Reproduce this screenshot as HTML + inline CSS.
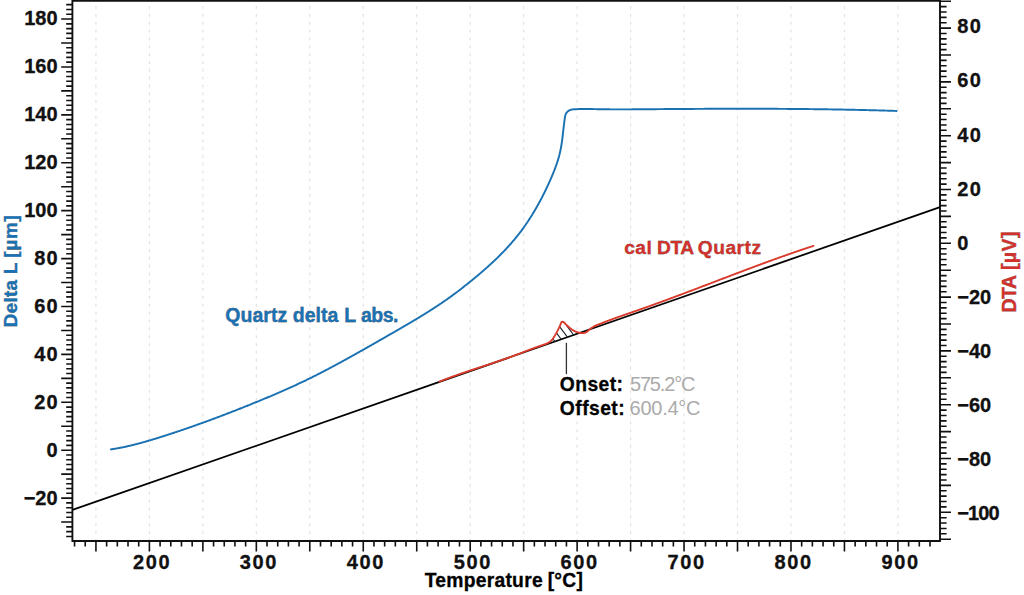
<!DOCTYPE html>
<html><head><meta charset="utf-8"><style>
html,body{margin:0;padding:0;background:#fff;width:1024px;height:595px;overflow:hidden;position:relative}
text{font-family:"Liberation Sans", sans-serif}
text[font-weight="bold"]{stroke:currentColor;stroke-width:0.3px;paint-order:stroke}
</style></head><body>
<svg width="1024" height="595" viewBox="0 0 1024 595" style="position:absolute;left:0;top:0">
<rect width="1024" height="595" fill="#fff"/>
<path d="M95.94 2.75V540.00M149.40 2.75V540.00M202.87 2.75V540.00M256.33 2.75V540.00M309.79 2.75V540.00M363.26 2.75V540.00M416.73 2.75V540.00M470.19 2.75V540.00M523.65 2.75V540.00M577.12 2.75V540.00M630.58 2.75V540.00M684.05 2.75V540.00M737.51 2.75V540.00M790.98 2.75V540.00M844.44 2.75V540.00M897.91 2.75V540.00" stroke="#e3e3e3" stroke-width="1.2" stroke-dasharray="3 4.834" stroke-dashoffset="-3.35" fill="none"/>
<path d="M66.20 536.43H72.40M66.20 531.64H72.40M66.20 526.85H72.40M61.20 522.06H72.40M66.20 517.27H72.40M66.20 512.48H72.40M66.20 507.69H72.40M66.20 502.90H72.40M61.20 498.11H72.40M66.20 493.32H72.40M66.20 488.52H72.40M66.20 483.73H72.40M66.20 478.94H72.40M61.20 474.15H72.40M66.20 469.36H72.40M66.20 464.57H72.40M66.20 459.78H72.40M66.20 454.99H72.40M61.20 450.20H72.40M66.20 445.41H72.40M66.20 440.62H72.40M66.20 435.83H72.40M66.20 431.04H72.40M61.20 426.25H72.40M66.20 421.46H72.40M66.20 416.67H72.40M66.20 411.88H72.40M66.20 407.08H72.40M61.20 402.29H72.40M66.20 397.50H72.40M66.20 392.71H72.40M66.20 387.92H72.40M66.20 383.13H72.40M61.20 378.34H72.40M66.20 373.55H72.40M66.20 368.76H72.40M66.20 363.97H72.40M66.20 359.18H72.40M61.20 354.39H72.40M66.20 349.60H72.40M66.20 344.81H72.40M66.20 340.02H72.40M66.20 335.23H72.40M61.20 330.43H72.40M66.20 325.64H72.40M66.20 320.85H72.40M66.20 316.06H72.40M66.20 311.27H72.40M61.20 306.48H72.40M66.20 301.69H72.40M66.20 296.90H72.40M66.20 292.11H72.40M66.20 287.32H72.40M61.20 282.53H72.40M66.20 277.74H72.40M66.20 272.95H72.40M66.20 268.16H72.40M66.20 263.37H72.40M61.20 258.58H72.40M66.20 253.79H72.40M66.20 248.99H72.40M66.20 244.20H72.40M66.20 239.41H72.40M61.20 234.62H72.40M66.20 229.83H72.40M66.20 225.04H72.40M66.20 220.25H72.40M66.20 215.46H72.40M61.20 210.67H72.40M66.20 205.88H72.40M66.20 201.09H72.40M66.20 196.30H72.40M66.20 191.51H72.40M61.20 186.72H72.40M66.20 181.93H72.40M66.20 177.14H72.40M66.20 172.35H72.40M66.20 167.55H72.40M61.20 162.76H72.40M66.20 157.97H72.40M66.20 153.18H72.40M66.20 148.39H72.40M66.20 143.60H72.40M61.20 138.81H72.40M66.20 134.02H72.40M66.20 129.23H72.40M66.20 124.44H72.40M66.20 119.65H72.40M61.20 114.86H72.40M66.20 110.07H72.40M66.20 105.28H72.40M66.20 100.49H72.40M66.20 95.70H72.40M61.20 90.90H72.40M66.20 86.11H72.40M66.20 81.32H72.40M66.20 76.53H72.40M66.20 71.74H72.40M61.20 66.95H72.40M66.20 62.16H72.40M66.20 57.37H72.40M66.20 52.58H72.40M66.20 47.79H72.40M61.20 43.00H72.40M66.20 38.21H72.40M66.20 33.42H72.40M66.20 28.63H72.40M66.20 23.84H72.40M61.20 19.05H72.40M66.20 14.26H72.40M66.20 9.46H72.40M66.20 4.67H72.40M74.55 541.00V546.50M85.24 541.00V546.50M95.94 541.00V551.50M106.63 541.00V546.50M117.32 541.00V546.50M128.01 541.00V546.50M138.71 541.00V546.50M149.40 541.00V551.50M160.09 541.00V546.50M170.79 541.00V546.50M181.48 541.00V546.50M192.17 541.00V546.50M202.87 541.00V551.50M213.56 541.00V546.50M224.25 541.00V546.50M234.94 541.00V546.50M245.64 541.00V546.50M256.33 541.00V551.50M267.02 541.00V546.50M277.72 541.00V546.50M288.41 541.00V546.50M299.10 541.00V546.50M309.79 541.00V551.50M320.49 541.00V546.50M331.18 541.00V546.50M341.87 541.00V546.50M352.57 541.00V546.50M363.26 541.00V551.50M373.95 541.00V546.50M384.65 541.00V546.50M395.34 541.00V546.50M406.03 541.00V546.50M416.73 541.00V551.50M427.42 541.00V546.50M438.11 541.00V546.50M448.80 541.00V546.50M459.50 541.00V546.50M470.19 541.00V551.50M480.88 541.00V546.50M491.58 541.00V546.50M502.27 541.00V546.50M512.96 541.00V546.50M523.65 541.00V551.50M534.35 541.00V546.50M545.04 541.00V546.50M555.73 541.00V546.50M566.43 541.00V546.50M577.12 541.00V551.50M587.81 541.00V546.50M598.51 541.00V546.50M609.20 541.00V546.50M619.89 541.00V546.50M630.58 541.00V551.50M641.28 541.00V546.50M651.97 541.00V546.50M662.66 541.00V546.50M673.36 541.00V546.50M684.05 541.00V551.50M694.74 541.00V546.50M705.44 541.00V546.50M716.13 541.00V546.50M726.82 541.00V546.50M737.51 541.00V551.50M748.21 541.00V546.50M758.90 541.00V546.50M769.59 541.00V546.50M780.29 541.00V546.50M790.98 541.00V551.50M801.67 541.00V546.50M812.37 541.00V546.50M823.06 541.00V546.50M833.75 541.00V546.50M844.44 541.00V551.50M855.14 541.00V546.50M865.83 541.00V546.50M876.52 541.00V546.50M887.22 541.00V546.50M897.91 541.00V551.50M908.60 541.00V546.50M919.30 541.00V546.50M929.99 541.00V546.50M940.00 539.20H951.00M940.00 533.82H946.60M940.00 528.44H946.60M940.00 523.06H946.60M940.00 517.68H946.60M940.00 512.30H951.00M940.00 506.92H946.60M940.00 501.54H946.60M940.00 496.16H946.60M940.00 490.78H946.60M940.00 485.40H951.00M940.00 480.02H946.60M940.00 474.64H946.60M940.00 469.26H946.60M940.00 463.88H946.60M940.00 458.50H951.00M940.00 453.12H946.60M940.00 447.74H946.60M940.00 442.36H946.60M940.00 436.98H946.60M940.00 431.60H951.00M940.00 426.22H946.60M940.00 420.84H946.60M940.00 415.46H946.60M940.00 410.08H946.60M940.00 404.70H951.00M940.00 399.32H946.60M940.00 393.94H946.60M940.00 388.56H946.60M940.00 383.18H946.60M940.00 377.80H951.00M940.00 372.42H946.60M940.00 367.04H946.60M940.00 361.66H946.60M940.00 356.28H946.60M940.00 350.90H951.00M940.00 345.52H946.60M940.00 340.14H946.60M940.00 334.76H946.60M940.00 329.38H946.60M940.00 324.00H951.00M940.00 318.62H946.60M940.00 313.24H946.60M940.00 307.86H946.60M940.00 302.48H946.60M940.00 297.10H951.00M940.00 291.72H946.60M940.00 286.34H946.60M940.00 280.96H946.60M940.00 275.58H946.60M940.00 270.20H951.00M940.00 264.82H946.60M940.00 259.44H946.60M940.00 254.06H946.60M940.00 248.68H946.60M940.00 243.30H951.00M940.00 237.92H946.60M940.00 232.54H946.60M940.00 227.16H946.60M940.00 221.78H946.60M940.00 216.40H951.00M940.00 211.02H946.60M940.00 205.64H946.60M940.00 200.26H946.60M940.00 194.88H946.60M940.00 189.50H951.00M940.00 184.12H946.60M940.00 178.74H946.60M940.00 173.36H946.60M940.00 167.98H946.60M940.00 162.60H951.00M940.00 157.22H946.60M940.00 151.84H946.60M940.00 146.46H946.60M940.00 141.08H946.60M940.00 135.70H951.00M940.00 130.32H946.60M940.00 124.94H946.60M940.00 119.56H946.60M940.00 114.18H946.60M940.00 108.80H951.00M940.00 103.42H946.60M940.00 98.04H946.60M940.00 92.66H946.60M940.00 87.28H946.60M940.00 81.90H951.00M940.00 76.52H946.60M940.00 71.14H946.60M940.00 65.76H946.60M940.00 60.38H946.60M940.00 55.00H951.00M940.00 49.62H946.60M940.00 44.24H946.60M940.00 38.86H946.60M940.00 33.48H946.60M940.00 28.10H951.00M940.00 22.72H946.60M940.00 17.34H946.60M940.00 11.96H946.60M940.00 6.58H946.60M940.00 1.20H951.00" stroke="#111" stroke-width="1.6" fill="none"/>
<path d="M72.4 0V541.8M940.0 0V541.8M71.60000000000001 541.0H940.8M71.60000000000001 0.75H940.8" stroke="#111" stroke-width="1.9" fill="none"/>
<path d="M72.4 509.93L940.0 207.14" stroke="#000" stroke-width="1.75" fill="none"/>
<path d="M110.93 449.35 L111.54 449.26 L112.15 449.17 L112.77 449.08 L113.38 448.99 L113.99 448.89 L114.61 448.79 L115.22 448.69 L115.83 448.59 L116.44 448.48 L117.05 448.38 L117.66 448.27 L118.27 448.16 L118.88 448.05 L119.49 447.93 L120.10 447.82 L120.71 447.70 L121.32 447.58 L121.93 447.46 L122.53 447.34 L123.14 447.21 L123.75 447.09 L124.35 446.96 L124.96 446.83 L125.57 446.70 L126.17 446.57 L126.78 446.44 L127.38 446.30 L127.99 446.17 L128.59 446.03 L129.20 445.89 L129.80 445.75 L130.41 445.61 L131.01 445.46 L131.61 445.32 L132.21 445.17 L132.82 445.02 L133.42 444.87 L134.02 444.72 L134.62 444.57 L135.22 444.42 L135.83 444.27 L136.43 444.11 L137.03 443.95 L137.63 443.80 L138.23 443.64 L138.83 443.48 L139.43 443.32 L140.03 443.15 L140.63 442.99 L141.22 442.83 L141.82 442.66 L142.42 442.50 L143.02 442.33 L143.62 442.16 L144.22 441.99 L144.81 441.82 L145.41 441.65 L146.01 441.48 L146.60 441.31 L147.20 441.13 L147.80 440.96 L148.39 440.78 L148.99 440.61 L149.59 440.43 L150.18 440.26 L150.78 440.08 L151.37 439.90 L151.97 439.72 L152.56 439.54 L153.16 439.36 L153.75 439.18 L154.35 439.00 L154.94 438.81 L155.53 438.63 L156.13 438.45 L156.72 438.26 L157.32 438.08 L157.91 437.89 L158.50 437.71 L159.10 437.52 L159.69 437.34 L160.28 437.15 L160.87 436.96 L161.47 436.78 L162.06 436.59 L162.65 436.40 L163.24 436.21 L163.84 436.02 L164.43 435.84 L165.02 435.65 L165.61 435.46 L166.20 435.27 L166.79 435.08 L167.39 434.89 L167.98 434.69 L168.57 434.50 L169.16 434.31 L169.75 434.12 L170.34 433.93 L170.93 433.73 L171.52 433.54 L172.11 433.35 L172.70 433.15 L173.29 432.96 L173.88 432.76 L174.47 432.57 L175.06 432.37 L175.65 432.18 L176.24 431.98 L176.83 431.78 L177.42 431.59 L178.01 431.39 L178.59 431.19 L179.18 431.00 L179.77 430.80 L180.36 430.60 L180.95 430.40 L181.54 430.20 L182.12 430.00 L182.71 429.80 L183.30 429.60 L183.89 429.40 L184.47 429.20 L185.06 429.00 L185.65 428.80 L186.24 428.60 L186.82 428.39 L187.41 428.19 L188.00 427.99 L188.58 427.78 L189.17 427.58 L189.76 427.38 L190.34 427.17 L190.93 426.97 L191.52 426.76 L192.10 426.56 L192.69 426.35 L193.27 426.15 L193.86 425.94 L194.44 425.74 L195.03 425.53 L195.61 425.32 L196.20 425.12 L196.78 424.91 L197.37 424.70 L197.95 424.49 L198.54 424.28 L199.12 424.07 L199.71 423.86 L200.29 423.66 L200.88 423.45 L201.46 423.24 L202.04 423.03 L202.63 422.81 L203.21 422.60 L203.80 422.39 L204.38 422.18 L204.96 421.97 L205.55 421.76 L206.13 421.54 L206.71 421.33 L207.29 421.12 L207.88 420.90 L208.46 420.69 L209.04 420.48 L209.63 420.26 L210.21 420.05 L210.79 419.83 L211.37 419.62 L211.95 419.40 L212.54 419.19 L213.12 418.97 L213.70 418.75 L214.28 418.54 L214.86 418.32 L215.44 418.10 L216.03 417.89 L216.61 417.67 L217.19 417.45 L217.77 417.23 L218.35 417.01 L218.93 416.80 L219.51 416.58 L220.09 416.36 L220.67 416.14 L221.25 415.92 L221.83 415.70 L222.41 415.48 L222.99 415.26 L223.57 415.03 L224.15 414.81 L224.73 414.59 L225.31 414.37 L225.89 414.15 L226.47 413.93 L227.05 413.70 L227.63 413.48 L228.21 413.26 L228.79 413.03 L229.37 412.81 L229.95 412.58 L230.53 412.36 L231.10 412.14 L231.68 411.91 L232.26 411.69 L232.84 411.46 L233.42 411.24 L234.00 411.01 L234.57 410.78 L235.15 410.56 L235.73 410.33 L236.31 410.10 L236.89 409.88 L237.46 409.65 L238.04 409.42 L238.62 409.19 L239.20 408.97 L239.77 408.74 L240.35 408.51 L240.93 408.28 L241.50 408.05 L242.08 407.82 L242.66 407.59 L243.24 407.36 L243.81 407.13 L244.39 406.90 L244.96 406.67 L245.54 406.44 L246.12 406.21 L246.69 405.98 L247.27 405.75 L247.85 405.52 L248.42 405.28 L249.00 405.05 L249.57 404.82 L250.15 404.59 L250.73 404.35 L251.30 404.12 L251.88 403.89 L252.45 403.65 L253.03 403.42 L253.60 403.19 L254.18 402.95 L254.75 402.72 L255.33 402.48 L255.90 402.25 L256.48 402.01 L257.05 401.78 L257.63 401.54 L258.20 401.31 L258.78 401.07 L259.35 400.83 L259.92 400.60 L260.50 400.36 L261.07 400.12 L261.65 399.89 L262.22 399.65 L262.79 399.41 L263.37 399.17 L263.94 398.93 L264.51 398.69 L265.09 398.46 L265.66 398.22 L266.23 397.98 L266.81 397.74 L267.38 397.50 L267.95 397.26 L268.53 397.02 L269.10 396.78 L269.67 396.53 L270.24 396.29 L270.82 396.05 L271.39 395.81 L271.96 395.57 L272.53 395.32 L273.10 395.08 L273.67 394.84 L274.24 394.59 L274.82 394.35 L275.39 394.10 L275.96 393.86 L276.53 393.61 L277.10 393.37 L277.67 393.12 L278.24 392.88 L278.81 392.63 L279.38 392.38 L279.95 392.13 L280.52 391.89 L281.09 391.64 L281.66 391.39 L282.23 391.14 L282.79 390.89 L283.36 390.64 L283.93 390.39 L284.50 390.14 L285.07 389.89 L285.64 389.64 L286.20 389.38 L286.77 389.13 L287.34 388.88 L287.90 388.63 L288.47 388.37 L289.04 388.12 L289.60 387.86 L290.17 387.61 L290.74 387.35 L291.30 387.10 L291.87 386.84 L292.43 386.58 L293.00 386.33 L293.56 386.07 L294.13 385.81 L294.69 385.55 L295.26 385.29 L295.82 385.03 L296.38 384.77 L296.95 384.51 L297.51 384.25 L298.07 383.99 L298.64 383.72 L299.20 383.46 L299.76 383.20 L300.32 382.93 L300.88 382.67 L301.45 382.40 L302.01 382.14 L302.57 381.87 L303.13 381.61 L303.69 381.34 L304.25 381.07 L304.81 380.80 L305.37 380.53 L305.93 380.26 L306.49 379.99 L307.05 379.72 L307.60 379.45 L308.16 379.18 L308.72 378.91 L309.28 378.64 L309.84 378.36 L310.39 378.09 L310.95 377.81 L311.51 377.54 L312.06 377.26 L312.62 376.99 L313.17 376.71 L313.73 376.43 L314.28 376.15 L314.84 375.87 L315.39 375.59 L315.95 375.32 L316.50 375.03 L317.05 374.75 L317.61 374.47 L318.16 374.19 L318.71 373.91 L319.27 373.63 L319.82 373.34 L320.37 373.06 L320.92 372.77 L321.48 372.49 L322.03 372.20 L322.58 371.92 L323.13 371.63 L323.68 371.35 L324.23 371.06 L324.78 370.77 L325.33 370.48 L325.88 370.20 L326.43 369.91 L326.98 369.62 L327.53 369.33 L328.08 369.04 L328.63 368.75 L329.18 368.46 L329.73 368.17 L330.27 367.88 L330.82 367.59 L331.37 367.29 L331.92 367.00 L332.47 366.71 L333.01 366.42 L333.56 366.12 L334.11 365.83 L334.65 365.53 L335.20 365.24 L335.75 364.95 L336.29 364.65 L336.84 364.36 L337.39 364.06 L337.93 363.76 L338.48 363.47 L339.02 363.17 L339.57 362.88 L340.11 362.58 L340.66 362.28 L341.20 361.98 L341.75 361.69 L342.29 361.39 L342.84 361.09 L343.38 360.79 L343.92 360.49 L344.47 360.20 L345.01 359.90 L345.56 359.60 L346.10 359.30 L346.64 359.00 L347.19 358.70 L347.73 358.40 L348.27 358.10 L348.82 357.80 L349.36 357.50 L349.90 357.20 L350.44 356.89 L350.99 356.59 L351.53 356.29 L352.07 355.99 L352.61 355.69 L353.16 355.39 L353.70 355.08 L354.24 354.78 L354.78 354.48 L355.32 354.18 L355.86 353.87 L356.41 353.57 L356.95 353.27 L357.49 352.96 L358.03 352.66 L358.57 352.36 L359.11 352.05 L359.65 351.75 L360.19 351.44 L360.73 351.14 L361.28 350.83 L361.82 350.53 L362.36 350.22 L362.90 349.92 L363.44 349.61 L363.98 349.31 L364.52 349.00 L365.06 348.70 L365.60 348.39 L366.14 348.08 L366.68 347.78 L367.22 347.47 L367.76 347.17 L368.30 346.86 L368.84 346.55 L369.38 346.25 L369.92 345.94 L370.46 345.63 L371.00 345.33 L371.53 345.02 L372.07 344.71 L372.61 344.40 L373.15 344.10 L373.69 343.79 L374.23 343.48 L374.77 343.17 L375.31 342.86 L375.85 342.56 L376.39 342.25 L376.93 341.94 L377.47 341.63 L378.00 341.32 L378.54 341.02 L379.08 340.71 L379.62 340.40 L380.16 340.09 L380.70 339.78 L381.24 339.47 L381.78 339.16 L382.32 338.85 L382.85 338.55 L383.39 338.24 L383.93 337.93 L384.47 337.62 L385.01 337.31 L385.55 337.00 L386.09 336.69 L386.63 336.38 L387.16 336.07 L387.70 335.76 L388.24 335.45 L388.78 335.14 L389.32 334.83 L389.86 334.52 L390.40 334.21 L390.94 333.90 L391.47 333.59 L392.01 333.29 L392.55 332.98 L393.09 332.67 L393.63 332.36 L394.17 332.05 L394.71 331.74 L395.25 331.43 L395.78 331.12 L396.32 330.80 L396.86 330.49 L397.40 330.18 L397.94 329.87 L398.48 329.56 L399.02 329.25 L399.55 328.94 L400.09 328.63 L400.63 328.32 L401.17 328.01 L401.71 327.69 L402.24 327.38 L402.78 327.07 L403.32 326.76 L403.86 326.44 L404.39 326.13 L404.93 325.82 L405.47 325.50 L406.00 325.19 L406.54 324.88 L407.08 324.56 L407.61 324.25 L408.15 323.93 L408.68 323.62 L409.22 323.30 L409.76 322.99 L410.29 322.67 L410.83 322.36 L411.36 322.04 L411.90 321.72 L412.43 321.40 L412.96 321.09 L413.50 320.77 L414.03 320.45 L414.57 320.13 L415.10 319.81 L415.63 319.49 L416.16 319.17 L416.70 318.85 L417.23 318.53 L417.76 318.21 L418.29 317.89 L418.82 317.57 L419.36 317.25 L419.89 316.92 L420.42 316.60 L420.95 316.28 L421.48 315.95 L422.01 315.63 L422.54 315.30 L423.06 314.98 L423.59 314.65 L424.12 314.33 L424.65 314.00 L425.18 313.67 L425.70 313.34 L426.23 313.02 L426.76 312.69 L427.28 312.36 L427.81 312.03 L428.33 311.70 L428.86 311.36 L429.38 311.03 L429.91 310.70 L430.43 310.37 L430.95 310.03 L431.48 309.70 L432.00 309.36 L432.52 309.03 L433.04 308.69 L433.56 308.36 L434.08 308.02 L434.60 307.68 L435.12 307.34 L435.64 307.00 L436.16 306.66 L436.68 306.32 L437.20 305.98 L437.71 305.64 L438.23 305.29 L438.75 304.95 L439.26 304.61 L439.78 304.26 L440.29 303.91 L440.81 303.57 L441.32 303.22 L441.83 302.87 L442.34 302.52 L442.86 302.17 L443.37 301.82 L443.88 301.47 L444.39 301.12 L444.90 300.77 L445.41 300.41 L445.92 300.06 L446.42 299.70 L446.93 299.35 L447.44 298.99 L447.94 298.63 L448.45 298.27 L448.95 297.92 L449.46 297.55 L449.96 297.19 L450.47 296.83 L450.97 296.47 L451.47 296.10 L451.97 295.74 L452.47 295.37 L452.97 295.01 L453.47 294.64 L453.97 294.27 L454.47 293.90 L454.96 293.53 L455.46 293.16 L455.96 292.79 L456.45 292.42 L456.95 292.05 L457.44 291.67 L457.94 291.30 L458.43 290.92 L458.93 290.55 L459.42 290.17 L459.91 289.79 L460.40 289.41 L460.89 289.04 L461.38 288.66 L461.87 288.28 L462.36 287.90 L462.85 287.51 L463.34 287.13 L463.83 286.75 L464.32 286.36 L464.81 285.98 L465.29 285.60 L465.78 285.21 L466.27 284.82 L466.75 284.44 L467.24 284.05 L467.72 283.66 L468.21 283.27 L468.69 282.88 L469.18 282.49 L469.66 282.10 L470.14 281.71 L470.63 281.32 L471.11 280.93 L471.59 280.54 L472.07 280.14 L472.55 279.75 L473.03 279.35 L473.51 278.96 L473.99 278.56 L474.47 278.17 L474.95 277.77 L475.43 277.37 L475.91 276.98 L476.39 276.58 L476.87 276.18 L477.34 275.78 L477.82 275.38 L478.30 274.98 L478.77 274.58 L479.25 274.17 L479.72 273.77 L480.19 273.37 L480.67 272.96 L481.14 272.56 L481.61 272.15 L482.08 271.75 L482.55 271.34 L483.02 270.93 L483.49 270.52 L483.96 270.11 L484.43 269.70 L484.90 269.29 L485.37 268.88 L485.83 268.47 L486.30 268.06 L486.76 267.64 L487.23 267.23 L487.69 266.81 L488.15 266.40 L488.61 265.98 L489.08 265.56 L489.54 265.14 L490.00 264.73 L490.45 264.31 L490.91 263.89 L491.37 263.46 L491.83 263.04 L492.28 262.62 L492.74 262.19 L493.19 261.77 L493.64 261.34 L494.10 260.92 L494.55 260.49 L495.00 260.06 L495.45 259.63 L495.89 259.20 L496.34 258.77 L496.79 258.34 L497.23 257.91 L497.68 257.47 L498.12 257.04 L498.57 256.60 L499.01 256.17 L499.45 255.73 L499.89 255.29 L500.33 254.85 L500.76 254.41 L501.20 253.97 L501.64 253.53 L502.07 253.09 L502.50 252.64 L502.94 252.20 L503.37 251.75 L503.80 251.31 L504.23 250.86 L504.65 250.41 L505.08 249.96 L505.51 249.51 L505.93 249.06 L506.35 248.60 L506.77 248.15 L507.20 247.69 L507.61 247.24 L508.03 246.78 L508.45 246.32 L508.87 245.86 L509.28 245.40 L509.69 244.94 L510.11 244.48 L510.52 244.02 L510.92 243.55 L511.33 243.08 L511.74 242.62 L512.14 242.15 L512.55 241.68 L512.95 241.21 L513.35 240.74 L513.75 240.27 L514.15 239.79 L514.55 239.32 L514.94 238.84 L515.34 238.36 L515.73 237.89 L516.12 237.41 L516.51 236.93 L516.90 236.44 L517.29 235.96 L517.67 235.48 L518.06 234.99 L518.44 234.50 L518.82 234.02 L519.20 233.53 L519.58 233.04 L519.95 232.54 L520.33 232.05 L520.70 231.56 L521.07 231.06 L521.45 230.57 L521.81 230.07 L522.18 229.57 L522.55 229.07 L522.91 228.57 L523.28 228.07 L523.64 227.57 L524.00 227.06 L524.36 226.56 L524.71 226.05 L525.07 225.54 L525.43 225.04 L525.78 224.53 L526.13 224.02 L526.48 223.50 L526.83 222.99 L527.18 222.48 L527.52 221.96 L527.87 221.45 L528.21 220.93 L528.55 220.41 L528.89 219.89 L529.23 219.38 L529.57 218.85 L529.91 218.33 L530.24 217.81 L530.58 217.29 L530.91 216.76 L531.24 216.24 L531.57 215.71 L531.90 215.18 L532.23 214.66 L532.55 214.13 L532.88 213.60 L533.20 213.07 L533.52 212.54 L533.84 212.00 L534.16 211.47 L534.48 210.94 L534.79 210.40 L535.11 209.87 L535.42 209.33 L535.74 208.79 L536.05 208.25 L536.36 207.71 L536.67 207.17 L536.97 206.63 L537.28 206.09 L537.58 205.55 L537.89 205.01 L538.19 204.46 L538.49 203.92 L538.79 203.37 L539.09 202.83 L539.39 202.28 L539.68 201.74 L539.98 201.19 L540.27 200.64 L540.57 200.09 L540.86 199.54 L541.15 198.99 L541.44 198.44 L541.72 197.88 L542.01 197.33 L542.30 196.78 L542.58 196.22 L542.86 195.67 L543.14 195.12 L543.43 194.56 L543.70 194.00 L543.98 193.45 L544.26 192.89 L544.54 192.33 L544.81 191.77 L545.08 191.21 L545.36 190.65 L545.63 190.09 L545.90 189.53 L546.17 188.97 L546.44 188.41 L546.70 187.85 L546.97 187.28 L547.23 186.72 L547.50 186.15 L547.76 185.59 L548.02 185.03 L548.28 184.46 L548.54 183.89 L548.80 183.33 L549.06 182.76 L549.31 182.19 L549.57 181.63 L549.82 181.06 L550.07 180.49 L550.32 179.92 L550.57 179.35 L550.82 178.78 L551.07 178.21 L551.32 177.64 L551.56 177.07 L551.81 176.50 L552.05 175.93 L552.29 175.36 L552.53 174.78 L552.77 174.21 L553.01 173.64 L553.24 173.06 L553.48 172.49 L553.71 171.91 L553.94 171.33 L554.17 170.76 L554.39 170.18 L554.62 169.60 L554.84 169.02 L555.06 168.45 L555.27 167.87 L555.49 167.28 L555.70 166.70 L555.91 166.12 L556.12 165.54 L556.33 164.96 L556.53 164.37 L556.73 163.79 L556.93 163.20 L557.12 162.62 L557.32 162.03 L557.51 161.44 L557.69 160.85 L557.88 160.26 L558.06 159.67 L558.23 159.08 L558.41 158.49 L558.58 157.90 L558.75 157.30 L558.91 156.71 L559.08 156.11 L559.23 155.52 L559.39 154.92 L559.54 154.32 L559.69 153.72 L559.83 153.12 L559.97 152.52 L560.11 151.92 L560.24 151.32 L560.37 150.71 L560.50 150.11 L560.62 149.50 L560.74 148.90 L560.86 148.29 L560.97 147.68 L561.08 147.07 L561.19 146.46 L561.29 145.85 L561.39 145.24 L561.49 144.63 L561.59 144.02 L561.68 143.40 L561.78 142.79 L561.87 142.17 L561.95 141.56 L562.04 140.94 L562.12 140.33 L562.21 139.71 L562.29 139.09 L562.37 138.48 L562.45 137.86 L562.52 137.24 L562.60 136.62 L562.67 136.00 L562.75 135.38 L562.82 134.76 L562.89 134.15 L562.96 133.53 L563.03 132.91 L563.10 132.29 L563.17 131.67 L563.24 131.05 L563.31 130.42 L563.38 129.80 L563.45 129.18 L563.52 128.56 L563.59 127.94 L563.66 127.32 L563.73 126.70 L563.80 126.08 L563.88 125.46 L563.95 124.84 L564.02 124.22 L564.10 123.60 L564.17 122.99 L564.25 122.37 L564.33 121.75 L564.41 121.13 L564.49 120.51 L564.57 119.89 L564.66 119.28 L564.75 118.66 L564.83 118.05 L564.92 117.43 L565.02 116.82 L565.13 116.21 L565.27 115.61 L565.43 115.02 L565.62 114.45 L565.86 113.89 L566.14 113.35 L566.48 112.84 L566.87 112.35 L567.30 111.88 L567.77 111.46 L568.28 111.06 L568.82 110.71 L569.37 110.40 L569.94 110.13 L570.53 109.91 L571.12 109.72 L571.73 109.58 L572.34 109.46 L572.95 109.37 L573.58 109.30 L574.20 109.25 L574.83 109.22 L575.46 109.19 L576.09 109.16 L576.72 109.14 L577.35 109.11 L577.97 109.10 L578.60 109.08 L579.23 109.06 L579.85 109.05 L580.48 109.04 L581.10 109.03 L581.73 109.02 L582.35 109.01 L582.97 109.01 L583.59 109.00 L584.22 109.00 L584.84 109.00 L585.46 109.00 L586.08 109.00 L586.70 109.01 L587.32 109.01 L587.94 109.02 L588.56 109.02 L589.18 109.03 L589.80 109.04 L590.42 109.05 L591.04 109.06 L591.65 109.07 L592.27 109.08 L592.89 109.09 L593.51 109.10 L594.13 109.11 L594.74 109.12 L595.36 109.13 L595.98 109.14 L596.60 109.16 L597.21 109.17 L597.83 109.18 L598.45 109.19 L599.07 109.20 L599.69 109.21 L600.30 109.23 L600.92 109.24 L601.54 109.25 L602.16 109.26 L602.78 109.26 L603.39 109.27 L604.01 109.28 L604.63 109.29 L605.25 109.30 L605.87 109.30 L606.49 109.31 L607.11 109.32 L607.73 109.32 L608.34 109.33 L608.96 109.34 L609.58 109.34 L610.20 109.35 L610.82 109.35 L611.44 109.35 L612.06 109.36 L612.68 109.36 L613.30 109.36 L613.92 109.37 L614.54 109.37 L615.16 109.37 L615.78 109.37 L616.40 109.38 L617.02 109.38 L617.64 109.38 L618.26 109.38 L618.88 109.38 L619.50 109.38 L620.12 109.38 L620.74 109.38 L621.36 109.38 L621.98 109.38 L622.61 109.38 L623.23 109.38 L623.85 109.38 L624.47 109.38 L625.09 109.38 L625.71 109.37 L626.33 109.37 L626.95 109.37 L627.57 109.37 L628.19 109.37 L628.82 109.36 L629.44 109.36 L630.06 109.36 L630.68 109.35 L631.30 109.35 L631.92 109.35 L632.54 109.34 L633.17 109.34 L633.79 109.34 L634.41 109.33 L635.03 109.33 L635.65 109.32 L636.27 109.32 L636.89 109.31 L637.52 109.31 L638.14 109.31 L638.76 109.30 L639.38 109.30 L640.00 109.29 L640.63 109.29 L641.25 109.28 L641.87 109.28 L642.49 109.27 L643.11 109.27 L643.73 109.26 L644.36 109.26 L644.98 109.25 L645.60 109.25 L646.22 109.24 L646.84 109.24 L647.46 109.23 L648.09 109.22 L648.71 109.22 L649.33 109.21 L649.95 109.21 L650.57 109.20 L651.20 109.20 L651.82 109.19 L652.44 109.19 L653.06 109.18 L653.68 109.18 L654.30 109.17 L654.93 109.17 L655.55 109.16 L656.17 109.16 L656.79 109.15 L657.41 109.15 L658.03 109.14 L658.66 109.14 L659.28 109.13 L659.90 109.13 L660.52 109.12 L661.14 109.12 L661.76 109.11 L662.39 109.11 L663.01 109.10 L663.63 109.10 L664.25 109.09 L664.87 109.09 L665.49 109.08 L666.12 109.08 L666.74 109.07 L667.36 109.07 L667.98 109.07 L668.60 109.06 L669.22 109.06 L669.85 109.05 L670.47 109.05 L671.09 109.04 L671.71 109.04 L672.33 109.03 L672.95 109.03 L673.57 109.02 L674.20 109.02 L674.82 109.02 L675.44 109.01 L676.06 109.01 L676.68 109.00 L677.30 109.00 L677.92 108.99 L678.55 108.99 L679.17 108.99 L679.79 108.98 L680.41 108.98 L681.03 108.97 L681.65 108.97 L682.27 108.97 L682.90 108.96 L683.52 108.96 L684.14 108.95 L684.76 108.95 L685.38 108.95 L686.00 108.94 L686.62 108.94 L687.25 108.94 L687.87 108.93 L688.49 108.93 L689.11 108.92 L689.73 108.92 L690.35 108.92 L690.97 108.91 L691.60 108.91 L692.22 108.91 L692.84 108.90 L693.46 108.90 L694.08 108.90 L694.70 108.89 L695.32 108.89 L695.94 108.89 L696.57 108.88 L697.19 108.88 L697.81 108.88 L698.43 108.87 L699.05 108.87 L699.67 108.87 L700.29 108.86 L700.91 108.86 L701.54 108.86 L702.16 108.85 L702.78 108.85 L703.40 108.85 L704.02 108.85 L704.64 108.84 L705.26 108.84 L705.88 108.84 L706.51 108.84 L707.13 108.83 L707.75 108.83 L708.37 108.83 L708.99 108.82 L709.61 108.82 L710.23 108.82 L710.85 108.82 L711.47 108.82 L712.10 108.81 L712.72 108.81 L713.34 108.81 L713.96 108.81 L714.58 108.80 L715.20 108.80 L715.82 108.80 L716.44 108.80 L717.06 108.80 L717.69 108.79 L718.31 108.79 L718.93 108.79 L719.55 108.79 L720.17 108.79 L720.79 108.78 L721.41 108.78 L722.03 108.78 L722.65 108.78 L723.28 108.78 L723.90 108.78 L724.52 108.78 L725.14 108.77 L725.76 108.77 L726.38 108.77 L727.00 108.77 L727.62 108.77 L728.24 108.77 L728.87 108.77 L729.49 108.77 L730.11 108.76 L730.73 108.76 L731.35 108.76 L731.97 108.76 L732.59 108.76 L733.21 108.76 L733.83 108.76 L734.45 108.76 L735.08 108.76 L735.70 108.76 L736.32 108.76 L736.94 108.76 L737.56 108.76 L738.18 108.75 L738.80 108.75 L739.42 108.75 L740.04 108.75 L740.66 108.75 L741.28 108.75 L741.91 108.75 L742.53 108.75 L743.15 108.75 L743.77 108.75 L744.39 108.75 L745.01 108.75 L745.63 108.75 L746.25 108.75 L746.87 108.75 L747.49 108.76 L748.12 108.76 L748.74 108.76 L749.36 108.76 L749.98 108.76 L750.60 108.76 L751.22 108.76 L751.84 108.76 L752.46 108.76 L753.08 108.76 L753.70 108.76 L754.32 108.76 L754.95 108.76 L755.57 108.76 L756.19 108.77 L756.81 108.77 L757.43 108.77 L758.05 108.77 L758.67 108.77 L759.29 108.77 L759.91 108.77 L760.53 108.78 L761.15 108.78 L761.77 108.78 L762.40 108.78 L763.02 108.78 L763.64 108.78 L764.26 108.79 L764.88 108.79 L765.50 108.79 L766.12 108.79 L766.74 108.79 L767.36 108.80 L767.98 108.80 L768.60 108.80 L769.23 108.80 L769.85 108.81 L770.47 108.81 L771.09 108.81 L771.71 108.81 L772.33 108.82 L772.95 108.82 L773.57 108.82 L774.19 108.83 L774.81 108.83 L775.43 108.83 L776.05 108.83 L776.67 108.84 L777.30 108.84 L777.92 108.84 L778.54 108.85 L779.16 108.85 L779.78 108.85 L780.40 108.86 L781.02 108.86 L781.64 108.87 L782.26 108.87 L782.88 108.87 L783.50 108.88 L784.12 108.88 L784.75 108.88 L785.37 108.89 L785.99 108.89 L786.61 108.90 L787.23 108.90 L787.85 108.91 L788.47 108.91 L789.09 108.91 L789.71 108.92 L790.33 108.92 L790.95 108.93 L791.57 108.93 L792.20 108.94 L792.82 108.94 L793.44 108.95 L794.06 108.95 L794.68 108.96 L795.30 108.96 L795.92 108.97 L796.54 108.97 L797.16 108.98 L797.78 108.99 L798.40 108.99 L799.02 109.00 L799.64 109.00 L800.27 109.01 L800.89 109.01 L801.51 109.02 L802.13 109.03 L802.75 109.03 L803.37 109.04 L803.99 109.04 L804.61 109.05 L805.23 109.06 L805.85 109.06 L806.47 109.07 L807.09 109.08 L807.71 109.08 L808.34 109.09 L808.96 109.10 L809.58 109.10 L810.20 109.11 L810.82 109.12 L811.44 109.13 L812.06 109.13 L812.68 109.14 L813.30 109.15 L813.92 109.15 L814.54 109.16 L815.16 109.17 L815.79 109.18 L816.41 109.19 L817.03 109.19 L817.65 109.20 L818.27 109.21 L818.89 109.22 L819.51 109.23 L820.13 109.23 L820.75 109.24 L821.37 109.25 L821.99 109.26 L822.61 109.27 L823.23 109.28 L823.86 109.28 L824.48 109.29 L825.10 109.30 L825.72 109.31 L826.34 109.32 L826.96 109.33 L827.58 109.34 L828.20 109.35 L828.82 109.36 L829.44 109.37 L830.06 109.38 L830.68 109.39 L831.31 109.40 L831.93 109.41 L832.55 109.42 L833.17 109.43 L833.79 109.44 L834.41 109.45 L835.03 109.46 L835.65 109.47 L836.27 109.48 L836.89 109.49 L837.51 109.50 L838.13 109.51 L838.76 109.52 L839.38 109.53 L840.00 109.54 L840.62 109.55 L841.24 109.56 L841.86 109.58 L842.48 109.59 L843.10 109.60 L843.72 109.61 L844.34 109.62 L844.96 109.63 L845.58 109.64 L846.21 109.66 L846.83 109.67 L847.45 109.68 L848.07 109.69 L848.69 109.70 L849.31 109.72 L849.93 109.73 L850.55 109.74 L851.17 109.75 L851.79 109.77 L852.41 109.78 L853.04 109.79 L853.66 109.81 L854.28 109.82 L854.90 109.83 L855.52 109.85 L856.14 109.86 L856.76 109.87 L857.38 109.89 L858.00 109.90 L858.62 109.91 L859.24 109.93 L859.87 109.94 L860.49 109.95 L861.11 109.97 L861.73 109.98 L862.35 110.00 L862.97 110.01 L863.59 110.03 L864.21 110.04 L864.83 110.06 L865.45 110.07 L866.07 110.09 L866.70 110.10 L867.32 110.12 L867.94 110.13 L868.56 110.15 L869.18 110.16 L869.80 110.18 L870.42 110.19 L871.04 110.21 L871.66 110.22 L872.28 110.24 L872.91 110.26 L873.53 110.27 L874.15 110.29 L874.77 110.30 L875.39 110.32 L876.01 110.34 L876.63 110.35 L877.25 110.37 L877.87 110.39 L878.49 110.40 L879.12 110.42 L879.74 110.44 L880.36 110.45 L880.98 110.47 L881.60 110.49 L882.22 110.51 L882.84 110.52 L883.46 110.54 L884.08 110.56 L884.71 110.58 L885.33 110.60 L885.95 110.61 L886.57 110.63 L887.19 110.65 L887.81 110.67 L888.43 110.69 L889.05 110.71 L889.67 110.73 L890.30 110.74 L890.92 110.76 L891.54 110.78 L892.16 110.80 L892.78 110.82 L893.40 110.84 L894.02 110.86 L894.64 110.88 L895.26 110.90 L895.89 110.92 L896.51 110.94" stroke="#1b72b3" stroke-width="1.95" fill="none" stroke-linejoin="round" stroke-linecap="round"/>
<path d="M554.90 341.54L553.03 339.02M561.20 339.34L556.65 333.20M567.40 337.18L559.79 326.89M573.60 335.02L566.85 325.89" stroke="#1a2430" stroke-width="1.1" fill="none"/>
<path d="M439.50 381.60 L439.82 381.47 L440.14 381.35 L440.45 381.22 L440.77 381.09 L441.09 380.97 L441.41 380.84 L441.73 380.72 L442.05 380.59 L442.36 380.47 L442.68 380.34 L443.00 380.22 L443.32 380.09 L443.64 379.97 L443.96 379.85 L444.28 379.72 L444.60 379.60 L444.92 379.48 L445.24 379.36 L445.56 379.23 L445.88 379.11 L446.20 378.99 L446.52 378.87 L446.84 378.75 L447.16 378.63 L447.49 378.51 L447.81 378.39 L448.13 378.27 L448.45 378.15 L448.77 378.03 L449.09 377.91 L449.41 377.79 L449.74 377.67 L450.06 377.55 L450.38 377.43 L450.70 377.31 L451.03 377.19 L451.35 377.08 L451.67 376.96 L451.99 376.84 L452.32 376.72 L452.64 376.61 L452.96 376.49 L453.29 376.37 L453.61 376.26 L453.93 376.14 L454.26 376.03 L454.58 375.91 L454.90 375.79 L455.23 375.68 L455.55 375.56 L455.88 375.45 L456.20 375.33 L456.52 375.22 L456.85 375.10 L457.17 374.99 L457.50 374.88 L457.82 374.76 L458.15 374.65 L458.47 374.53 L458.80 374.42 L459.12 374.31 L459.45 374.19 L459.77 374.08 L460.10 373.97 L460.42 373.86 L460.75 373.74 L461.07 373.63 L461.40 373.52 L461.72 373.41 L462.05 373.29 L462.38 373.18 L462.70 373.07 L463.03 372.96 L463.35 372.85 L463.68 372.74 L464.01 372.63 L464.33 372.51 L464.66 372.40 L464.98 372.29 L465.31 372.18 L465.64 372.07 L465.96 371.96 L466.29 371.85 L466.62 371.74 L466.94 371.63 L467.27 371.52 L467.60 371.41 L467.92 371.30 L468.25 371.19 L468.58 371.08 L468.90 370.97 L469.23 370.86 L469.56 370.75 L469.89 370.64 L470.21 370.53 L470.54 370.43 L470.87 370.32 L471.19 370.21 L471.52 370.10 L471.85 369.99 L472.18 369.88 L472.50 369.77 L472.83 369.66 L473.16 369.56 L473.49 369.45 L473.81 369.34 L474.14 369.23 L474.47 369.12 L474.80 369.01 L475.12 368.91 L475.45 368.80 L475.78 368.69 L476.11 368.58 L476.43 368.47 L476.76 368.36 L477.09 368.26 L477.42 368.15 L477.74 368.04 L478.07 367.93 L478.40 367.83 L478.73 367.72 L479.06 367.61 L479.38 367.50 L479.71 367.39 L480.04 367.29 L480.37 367.18 L480.70 367.07 L481.02 366.96 L481.35 366.86 L481.68 366.75 L482.01 366.64 L482.33 366.53 L482.66 366.42 L482.99 366.32 L483.32 366.21 L483.65 366.10 L483.97 365.99 L484.30 365.89 L484.63 365.78 L484.96 365.67 L485.28 365.56 L485.61 365.45 L485.94 365.35 L486.27 365.24 L486.59 365.13 L486.92 365.02 L487.25 364.91 L487.58 364.81 L487.91 364.70 L488.23 364.59 L488.56 364.48 L488.89 364.37 L489.22 364.27 L489.54 364.16 L489.87 364.05 L490.20 363.94 L490.52 363.83 L490.85 363.72 L491.18 363.61 L491.51 363.51 L491.83 363.40 L492.16 363.29 L492.49 363.18 L492.81 363.07 L493.14 362.96 L493.47 362.85 L493.80 362.74 L494.12 362.63 L494.45 362.52 L494.78 362.41 L495.10 362.30 L495.43 362.20 L495.76 362.09 L496.08 361.98 L496.41 361.87 L496.73 361.76 L497.06 361.65 L497.39 361.53 L497.71 361.42 L498.04 361.31 L498.37 361.20 L498.69 361.09 L499.02 360.98 L499.34 360.87 L499.67 360.76 L500.00 360.65 L500.32 360.54 L500.65 360.43 L500.97 360.31 L501.30 360.20 L501.62 360.09 L501.95 359.98 L502.27 359.87 L502.60 359.75 L502.92 359.64 L503.25 359.53 L503.57 359.42 L503.90 359.30 L504.22 359.19 L504.55 359.08 L504.87 358.96 L505.20 358.85 L505.52 358.73 L505.84 358.62 L506.17 358.51 L506.49 358.39 L506.82 358.28 L507.14 358.16 L507.46 358.05 L507.79 357.93 L508.11 357.82 L508.43 357.70 L508.76 357.59 L509.08 357.47 L509.40 357.36 L509.73 357.24 L510.05 357.12 L510.37 357.01 L510.70 356.89 L511.02 356.77 L511.34 356.66 L511.66 356.54 L511.98 356.42 L512.31 356.30 L512.63 356.18 L512.95 356.07 L513.27 355.95 L513.59 355.83 L513.91 355.71 L514.24 355.59 L514.56 355.47 L514.88 355.35 L515.20 355.23 L515.52 355.11 L515.84 354.99 L516.16 354.87 L516.48 354.75 L516.80 354.63 L517.12 354.51 L517.44 354.39 L517.76 354.27 L518.08 354.14 L518.40 354.02 L518.72 353.90 L519.04 353.78 L519.36 353.66 L519.68 353.53 L520.00 353.41 L520.32 353.29 L520.64 353.17 L520.96 353.04 L521.28 352.92 L521.60 352.80 L521.92 352.68 L522.24 352.55 L522.56 352.43 L522.88 352.31 L523.20 352.18 L523.52 352.06 L523.84 351.94 L524.15 351.81 L524.47 351.69 L524.79 351.57 L525.11 351.44 L525.43 351.32 L525.75 351.20 L526.07 351.08 L526.39 350.95 L526.71 350.83 L527.03 350.71 L527.35 350.58 L527.67 350.46 L528.00 350.34 L528.32 350.22 L528.64 350.09 L528.96 349.97 L529.28 349.85 L529.60 349.73 L529.92 349.61 L530.24 349.49 L530.56 349.36 L530.89 349.24 L531.21 349.12 L531.53 349.00 L531.85 348.88 L532.17 348.76 L532.50 348.64 L532.82 348.52 L533.14 348.40 L533.47 348.28 L533.79 348.16 L534.11 348.04 L534.44 347.92 L534.76 347.81 L535.09 347.69 L535.41 347.57 L535.74 347.45 L536.06 347.34 L536.39 347.22 L536.71 347.10 L537.04 346.99 L537.36 346.87 L537.69 346.75 L538.02 346.64 L538.35 346.53 L538.67 346.41 L539.00 346.30 L539.33 346.18 L539.66 346.07 L539.99 345.96 L540.32 345.85 L540.65 345.73 L540.98 345.62 L541.31 345.51 L541.64 345.40 L541.97 345.29 L542.30 345.18 L542.63 345.07 L542.96 344.96 L543.29 344.85 L543.62 344.74 L543.95 344.63 L544.28 344.51 L544.61 344.40 L544.93 344.28 L545.26 344.16 L545.58 344.04 L545.90 343.91 L546.22 343.78 L546.54 343.65 L546.85 343.52 L547.16 343.37 L547.47 343.23 L547.77 343.08 L548.07 342.92 L548.36 342.76 L548.66 342.60 L548.94 342.42 L549.23 342.24 L549.50 342.06 L549.78 341.86 L550.04 341.66 L550.31 341.45 L550.56 341.24 L550.81 341.01 L551.06 340.78 L551.30 340.54 L551.53 340.29 L551.76 340.03 L551.98 339.77 L552.20 339.50 L552.42 339.23 L552.63 338.95 L552.83 338.66 L553.04 338.38 L553.24 338.09 L553.43 337.80 L553.63 337.50 L553.82 337.21 L554.01 336.91 L554.20 336.62 L554.39 336.32 L554.57 336.02 L554.75 335.72 L554.94 335.42 L555.11 335.13 L555.29 334.83 L555.47 334.53 L555.64 334.22 L555.81 333.92 L555.99 333.62 L556.15 333.32 L556.32 333.02 L556.49 332.72 L556.65 332.41 L556.81 332.11 L556.98 331.81 L557.14 331.51 L557.29 331.21 L557.45 330.90 L557.61 330.60 L557.76 330.30 L557.91 330.00 L558.06 329.70 L558.21 329.39 L558.36 329.09 L558.51 328.79 L558.66 328.49 L558.80 328.19 L558.94 327.89 L559.09 327.59 L559.23 327.29 L559.37 326.99 L559.51 326.69 L559.65 326.39 L559.79 326.08 L559.92 325.77 L560.06 325.45 L560.20 325.12 L560.34 324.79 L560.47 324.46 L560.61 324.11 L560.75 323.75 L560.89 323.39 L561.03 323.02 L561.18 322.67 L561.36 322.35 L561.56 322.09 L561.80 321.90 L562.07 321.79 L562.37 321.76 L562.68 321.79 L563.00 321.88 L563.30 322.00 L563.58 322.16 L563.85 322.35 L564.11 322.56 L564.37 322.79 L564.62 323.03 L564.86 323.29 L565.11 323.54 L565.35 323.80 L565.60 324.05 L565.85 324.31 L566.09 324.56 L566.34 324.81 L566.59 325.06 L566.84 325.30 L567.10 325.55 L567.35 325.79 L567.60 326.03 L567.86 326.27 L568.12 326.50 L568.38 326.74 L568.64 326.97 L568.90 327.20 L569.16 327.42 L569.43 327.65 L569.69 327.87 L569.96 328.08 L570.23 328.30 L570.50 328.51 L570.78 328.72 L571.05 328.92 L571.33 329.12 L571.61 329.32 L571.89 329.51 L572.18 329.70 L572.46 329.89 L572.75 330.07 L573.04 330.25 L573.33 330.42 L573.62 330.59 L573.92 330.75 L574.22 330.91 L574.52 331.07 L574.82 331.22 L575.13 331.37 L575.44 331.51 L575.75 331.64 L576.06 331.78 L576.38 331.90 L576.70 332.02 L577.02 332.14 L577.34 332.25 L577.67 332.35 L578.00 332.45 L578.33 332.54 L578.67 332.63 L579.01 332.71 L579.35 332.78 L579.70 332.85 L580.04 332.91 L580.39 332.97 L580.74 333.01 L581.09 333.05 L581.44 333.08 L581.79 333.10 L582.14 333.11 L582.49 333.11 L582.84 333.09 L583.19 333.07 L583.53 333.03 L583.87 332.99 L584.20 332.93 L584.53 332.85 L584.86 332.76 L585.18 332.66 L585.49 332.54 L585.80 332.41 L586.10 332.26 L586.40 332.10 L586.68 331.92 L586.96 331.73 L587.24 331.52 L587.51 331.30 L587.78 331.08 L588.04 330.85 L588.30 330.61 L588.56 330.37 L588.83 330.13 L589.09 329.89 L589.35 329.65 L589.61 329.42 L589.88 329.19 L590.15 328.97 L590.42 328.75 L590.70 328.54 L590.98 328.33 L591.26 328.13 L591.54 327.93 L591.83 327.74 L592.12 327.56 L592.41 327.37 L592.70 327.20 L593.00 327.02 L593.30 326.86 L593.60 326.69 L593.90 326.53 L594.20 326.37 L594.51 326.22 L594.82 326.07 L595.13 325.92 L595.44 325.77 L595.75 325.63 L596.06 325.49 L596.37 325.35 L596.69 325.21 L597.00 325.08 L597.32 324.94 L597.64 324.81 L597.95 324.68 L598.27 324.55 L598.59 324.42 L598.91 324.30 L599.23 324.17 L599.55 324.04 L599.87 323.91 L600.19 323.79 L600.51 323.66 L600.83 323.54 L601.15 323.41 L601.47 323.28 L601.79 323.16 L602.11 323.03 L602.43 322.91 L602.75 322.79 L603.07 322.66 L603.39 322.54 L603.71 322.41 L604.03 322.29 L604.35 322.17 L604.67 322.04 L604.99 321.92 L605.31 321.80 L605.63 321.68 L605.96 321.56 L606.28 321.43 L606.60 321.31 L606.92 321.19 L607.24 321.07 L607.56 320.95 L607.89 320.83 L608.21 320.71 L608.53 320.59 L608.85 320.47 L609.17 320.35 L609.50 320.23 L609.82 320.11 L610.14 319.99 L610.46 319.87 L610.79 319.75 L611.11 319.64 L611.43 319.52 L611.75 319.40 L612.08 319.28 L612.40 319.16 L612.72 319.05 L613.05 318.93 L613.37 318.81 L613.69 318.69 L614.02 318.58 L614.34 318.46 L614.66 318.34 L614.99 318.23 L615.31 318.11 L615.63 317.99 L615.96 317.88 L616.28 317.76 L616.61 317.65 L616.93 317.53 L617.25 317.42 L617.58 317.30 L617.90 317.18 L618.23 317.07 L618.55 316.95 L618.87 316.84 L619.20 316.72 L619.52 316.61 L619.85 316.50 L620.17 316.38 L620.50 316.27 L620.82 316.15 L621.14 316.04 L621.47 315.92 L621.79 315.81 L622.12 315.70 L622.44 315.58 L622.77 315.47 L623.09 315.35 L623.42 315.24 L623.74 315.13 L624.07 315.01 L624.39 314.90 L624.72 314.79 L625.04 314.67 L625.37 314.56 L625.69 314.45 L626.02 314.34 L626.34 314.22 L626.67 314.11 L626.99 314.00 L627.32 313.88 L627.64 313.77 L627.97 313.66 L628.29 313.54 L628.62 313.43 L628.94 313.32 L629.27 313.21 L629.59 313.09 L629.92 312.98 L630.24 312.87 L630.57 312.76 L630.89 312.64 L631.22 312.53 L631.54 312.42 L631.87 312.31 L632.19 312.19 L632.52 312.08 L632.84 311.97 L633.17 311.85 L633.49 311.74 L633.82 311.63 L634.14 311.52 L634.47 311.40 L634.79 311.29 L635.12 311.18 L635.44 311.07 L635.77 310.95 L636.09 310.84 L636.42 310.73 L636.74 310.61 L637.07 310.50 L637.39 310.39 L637.72 310.27 L638.04 310.16 L638.37 310.05 L638.69 309.93 L639.02 309.82 L639.34 309.71 L639.67 309.59 L639.99 309.48 L640.32 309.37 L640.64 309.25 L640.97 309.14 L641.29 309.02 L641.62 308.91 L641.94 308.80 L642.27 308.68 L642.59 308.57 L642.92 308.45 L643.24 308.34 L643.56 308.22 L643.89 308.11 L644.21 308.00 L644.54 307.88 L644.86 307.77 L645.19 307.65 L645.51 307.54 L645.83 307.42 L646.16 307.31 L646.48 307.19 L646.81 307.08 L647.13 306.96 L647.46 306.84 L647.78 306.73 L648.10 306.61 L648.43 306.50 L648.75 306.38 L649.08 306.27 L649.40 306.15 L649.72 306.04 L650.05 305.92 L650.37 305.80 L650.70 305.69 L651.02 305.57 L651.34 305.45 L651.67 305.34 L651.99 305.22 L652.31 305.11 L652.64 304.99 L652.96 304.87 L653.29 304.76 L653.61 304.64 L653.93 304.52 L654.26 304.41 L654.58 304.29 L654.90 304.17 L655.23 304.06 L655.55 303.94 L655.87 303.82 L656.20 303.70 L656.52 303.59 L656.84 303.47 L657.17 303.35 L657.49 303.23 L657.81 303.12 L658.14 303.00 L658.46 302.88 L658.78 302.76 L659.11 302.65 L659.43 302.53 L659.75 302.41 L660.08 302.29 L660.40 302.17 L660.72 302.06 L661.05 301.94 L661.37 301.82 L661.69 301.70 L662.02 301.58 L662.34 301.47 L662.66 301.35 L662.98 301.23 L663.31 301.11 L663.63 300.99 L663.95 300.87 L664.28 300.76 L664.60 300.64 L664.92 300.52 L665.25 300.40 L665.57 300.28 L665.89 300.16 L666.21 300.04 L666.54 299.92 L666.86 299.80 L667.18 299.69 L667.50 299.57 L667.83 299.45 L668.15 299.33 L668.47 299.21 L668.80 299.09 L669.12 298.97 L669.44 298.85 L669.76 298.73 L670.09 298.61 L670.41 298.49 L670.73 298.37 L671.05 298.25 L671.38 298.13 L671.70 298.01 L672.02 297.89 L672.34 297.77 L672.67 297.65 L672.99 297.53 L673.31 297.41 L673.63 297.29 L673.95 297.17 L674.28 297.05 L674.60 296.93 L674.92 296.81 L675.24 296.69 L675.57 296.57 L675.89 296.45 L676.21 296.33 L676.53 296.21 L676.86 296.09 L677.18 295.97 L677.50 295.85 L677.82 295.73 L678.14 295.61 L678.47 295.49 L678.79 295.37 L679.11 295.25 L679.43 295.13 L679.75 295.00 L680.08 294.88 L680.40 294.76 L680.72 294.64 L681.04 294.52 L681.36 294.40 L681.69 294.28 L682.01 294.16 L682.33 294.04 L682.65 293.92 L682.97 293.80 L683.30 293.67 L683.62 293.55 L683.94 293.43 L684.26 293.31 L684.58 293.19 L684.91 293.07 L685.23 292.95 L685.55 292.82 L685.87 292.70 L686.19 292.58 L686.51 292.46 L686.84 292.34 L687.16 292.22 L687.48 292.10 L687.80 291.97 L688.12 291.85 L688.45 291.73 L688.77 291.61 L689.09 291.49 L689.41 291.37 L689.73 291.24 L690.05 291.12 L690.38 291.00 L690.70 290.88 L691.02 290.76 L691.34 290.63 L691.66 290.51 L691.98 290.39 L692.31 290.27 L692.63 290.15 L692.95 290.02 L693.27 289.90 L693.59 289.78 L693.91 289.66 L694.23 289.54 L694.56 289.41 L694.88 289.29 L695.20 289.17 L695.52 289.05 L695.84 288.93 L696.16 288.80 L696.49 288.68 L696.81 288.56 L697.13 288.44 L697.45 288.31 L697.77 288.19 L698.09 288.07 L698.41 287.95 L698.74 287.83 L699.06 287.70 L699.38 287.58 L699.70 287.46 L700.02 287.34 L700.34 287.21 L700.66 287.09 L700.99 286.97 L701.31 286.85 L701.63 286.72 L701.95 286.60 L702.27 286.48 L702.59 286.36 L702.91 286.23 L703.24 286.11 L703.56 285.99 L703.88 285.87 L704.20 285.74 L704.52 285.62 L704.84 285.50 L705.16 285.37 L705.49 285.25 L705.81 285.13 L706.13 285.01 L706.45 284.88 L706.77 284.76 L707.09 284.64 L707.41 284.52 L707.73 284.39 L708.06 284.27 L708.38 284.15 L708.70 284.03 L709.02 283.90 L709.34 283.78 L709.66 283.66 L709.98 283.53 L710.31 283.41 L710.63 283.29 L710.95 283.17 L711.27 283.04 L711.59 282.92 L711.91 282.80 L712.23 282.67 L712.55 282.55 L712.88 282.43 L713.20 282.31 L713.52 282.18 L713.84 282.06 L714.16 281.94 L714.48 281.82 L714.80 281.69 L715.12 281.57 L715.45 281.45 L715.77 281.32 L716.09 281.20 L716.41 281.08 L716.73 280.96 L717.05 280.83 L717.37 280.71 L717.69 280.59 L718.02 280.46 L718.34 280.34 L718.66 280.22 L718.98 280.10 L719.30 279.97 L719.62 279.85 L719.94 279.73 L720.27 279.61 L720.59 279.48 L720.91 279.36 L721.23 279.24 L721.55 279.11 L721.87 278.99 L722.19 278.87 L722.51 278.75 L722.84 278.62 L723.16 278.50 L723.48 278.38 L723.80 278.26 L724.12 278.13 L724.44 278.01 L724.76 277.89 L725.09 277.77 L725.41 277.64 L725.73 277.52 L726.05 277.40 L726.37 277.28 L726.69 277.15 L727.01 277.03 L727.33 276.91 L727.66 276.79 L727.98 276.66 L728.30 276.54 L728.62 276.42 L728.94 276.30 L729.26 276.17 L729.58 276.05 L729.91 275.93 L730.23 275.81 L730.55 275.68 L730.87 275.56 L731.19 275.44 L731.51 275.32 L731.83 275.19 L732.16 275.07 L732.48 274.95 L732.80 274.83 L733.12 274.71 L733.44 274.58 L733.76 274.46 L734.09 274.34 L734.41 274.22 L734.73 274.09 L735.05 273.97 L735.37 273.85 L735.69 273.73 L736.01 273.61 L736.34 273.48 L736.66 273.36 L736.98 273.24 L737.30 273.12 L737.62 273.00 L737.94 272.87 L738.27 272.75 L738.59 272.63 L738.91 272.51 L739.23 272.39 L739.55 272.27 L739.87 272.14 L740.20 272.02 L740.52 271.90 L740.84 271.78 L741.16 271.66 L741.48 271.54 L741.80 271.41 L742.13 271.29 L742.45 271.17 L742.77 271.05 L743.09 270.93 L743.41 270.81 L743.73 270.69 L744.06 270.56 L744.38 270.44 L744.70 270.32 L745.02 270.20 L745.34 270.08 L745.67 269.96 L745.99 269.84 L746.31 269.72 L746.63 269.60 L746.95 269.47 L747.27 269.35 L747.60 269.23 L747.92 269.11 L748.24 268.99 L748.56 268.87 L748.88 268.75 L749.21 268.63 L749.53 268.51 L749.85 268.39 L750.17 268.27 L750.49 268.15 L750.82 268.02 L751.14 267.90 L751.46 267.78 L751.78 267.66 L752.11 267.54 L752.43 267.42 L752.75 267.30 L753.07 267.18 L753.39 267.06 L753.72 266.94 L754.04 266.82 L754.36 266.70 L754.68 266.58 L755.01 266.46 L755.33 266.34 L755.65 266.22 L755.97 266.10 L756.29 265.98 L756.62 265.86 L756.94 265.74 L757.26 265.62 L757.58 265.50 L757.91 265.38 L758.23 265.26 L758.55 265.14 L758.87 265.02 L759.20 264.90 L759.52 264.78 L759.84 264.66 L760.16 264.55 L760.49 264.43 L760.81 264.31 L761.13 264.19 L761.45 264.07 L761.78 263.95 L762.10 263.83 L762.42 263.71 L762.74 263.59 L763.07 263.47 L763.39 263.36 L763.71 263.24 L764.04 263.12 L764.36 263.00 L764.68 262.88 L765.00 262.76 L765.33 262.64 L765.65 262.52 L765.97 262.41 L766.30 262.29 L766.62 262.17 L766.94 262.05 L767.26 261.93 L767.59 261.82 L767.91 261.70 L768.23 261.58 L768.56 261.46 L768.88 261.34 L769.20 261.23 L769.53 261.11 L769.85 260.99 L770.17 260.87 L770.49 260.75 L770.82 260.64 L771.14 260.52 L771.46 260.40 L771.79 260.29 L772.11 260.17 L772.43 260.05 L772.76 259.93 L773.08 259.82 L773.40 259.70 L773.73 259.58 L774.05 259.47 L774.37 259.35 L774.70 259.23 L775.02 259.12 L775.35 259.00 L775.67 258.88 L775.99 258.77 L776.32 258.65 L776.64 258.53 L776.96 258.42 L777.29 258.30 L777.61 258.18 L777.93 258.07 L778.26 257.95 L778.58 257.84 L778.91 257.72 L779.23 257.60 L779.55 257.49 L779.88 257.37 L780.20 257.26 L780.52 257.14 L780.85 257.03 L781.17 256.91 L781.50 256.79 L781.82 256.68 L782.14 256.56 L782.47 256.45 L782.79 256.33 L783.12 256.22 L783.44 256.10 L783.77 255.99 L784.09 255.87 L784.41 255.76 L784.74 255.64 L785.06 255.53 L785.39 255.42 L785.71 255.30 L786.04 255.19 L786.36 255.07 L786.68 254.96 L787.01 254.84 L787.33 254.73 L787.66 254.62 L787.98 254.50 L788.31 254.39 L788.63 254.28 L788.96 254.16 L789.28 254.05 L789.61 253.93 L789.93 253.82 L790.26 253.71 L790.58 253.59 L790.90 253.48 L791.23 253.37 L791.55 253.26 L791.88 253.14 L792.20 253.03 L792.53 252.92 L792.85 252.80 L793.18 252.69 L793.50 252.58 L793.83 252.47 L794.15 252.35 L794.48 252.24 L794.80 252.13 L795.13 252.02 L795.46 251.91 L795.78 251.79 L796.11 251.68 L796.43 251.57 L796.76 251.46 L797.08 251.35 L797.41 251.24 L797.73 251.12 L798.06 251.01 L798.38 250.90 L798.71 250.79 L799.04 250.68 L799.36 250.57 L799.69 250.46 L800.01 250.35 L800.34 250.24 L800.66 250.13 L800.99 250.02 L801.32 249.91 L801.64 249.79 L801.97 249.68 L802.29 249.57 L802.62 249.46 L802.95 249.35 L803.27 249.24 L803.60 249.14 L803.92 249.03 L804.25 248.92 L804.58 248.81 L804.90 248.70 L805.23 248.59 L805.55 248.48 L805.88 248.37 L806.21 248.26 L806.53 248.15 L806.86 248.04 L807.19 247.93 L807.51 247.83 L807.84 247.72 L808.17 247.61 L808.49 247.50 L808.82 247.39 L809.15 247.28 L809.47 247.18 L809.80 247.07 L810.13 246.96 L810.45 246.85 L810.78 246.75 L811.11 246.64 L811.43 246.53 L811.76 246.42 L812.09 246.32 L812.42 246.21 L812.74 246.10 L813.07 246.00 L813.40 245.89" stroke="#d93a2b" stroke-width="1.9" fill="none" stroke-linejoin="round" stroke-linecap="round"/>
<path d="M566.4 342.8V374.1" stroke="#333" stroke-width="1.3" fill="none"/>
</svg>
<svg width="1024" height="595" style="position:absolute;left:0;top:0" font-family='"Liberation Sans", sans-serif'><text x="57.60" y="504.95" font-size="20" text-anchor="end" font-weight="bold" fill="#111" >−20</text><text x="57.60" y="456.97" font-size="20" text-anchor="end" font-weight="bold" fill="#111" >0</text><text x="57.60" y="408.99" font-size="20" text-anchor="end" font-weight="bold" fill="#111" textLength="23.45" lengthAdjust="spacing">20</text><text x="57.60" y="361.01" font-size="20" text-anchor="end" font-weight="bold" fill="#111" textLength="23.45" lengthAdjust="spacing">40</text><text x="57.60" y="313.03" font-size="20" text-anchor="end" font-weight="bold" fill="#111" textLength="23.45" lengthAdjust="spacing">60</text><text x="57.60" y="265.05" font-size="20" text-anchor="end" font-weight="bold" fill="#111" textLength="23.45" lengthAdjust="spacing">80</text><text x="57.60" y="217.07" font-size="20" text-anchor="end" font-weight="bold" fill="#111" >100</text><text x="57.60" y="169.09" font-size="20" text-anchor="end" font-weight="bold" fill="#111" >120</text><text x="57.60" y="121.11" font-size="20" text-anchor="end" font-weight="bold" fill="#111" >140</text><text x="57.60" y="73.13" font-size="20" text-anchor="end" font-weight="bold" fill="#111" >160</text><text x="57.60" y="25.15" font-size="20" text-anchor="end" font-weight="bold" fill="#111" >180</text><text x="957.30" y="519.95" font-size="20" font-weight="bold" fill="#111" textLength="42.2" lengthAdjust="spacing">−100</text><text x="957.30" y="465.89" font-size="20" text-anchor="start" font-weight="bold" fill="#111" >−80</text><text x="957.30" y="411.83" font-size="20" text-anchor="start" font-weight="bold" fill="#111" >−60</text><text x="957.30" y="357.77" font-size="20" text-anchor="start" font-weight="bold" fill="#111" >−40</text><text x="957.30" y="303.71" font-size="20" text-anchor="start" font-weight="bold" fill="#111" >−20</text><text x="957.30" y="249.65" font-size="20" text-anchor="start" font-weight="bold" fill="#111" >0</text><text x="957.30" y="195.59" font-size="20" font-weight="bold" fill="#111" textLength="23.45" lengthAdjust="spacing">20</text><text x="957.30" y="141.53" font-size="20" font-weight="bold" fill="#111" textLength="23.45" lengthAdjust="spacing">40</text><text x="957.30" y="87.47" font-size="20" font-weight="bold" fill="#111" textLength="23.45" lengthAdjust="spacing">60</text><text x="957.30" y="33.41" font-size="20" font-weight="bold" fill="#111" textLength="23.45" lengthAdjust="spacing">80</text><text x="132.90" y="568.7" font-size="20" font-weight="bold" fill="#111" textLength="36.6" lengthAdjust="spacing">200</text><text x="239.83" y="568.7" font-size="20" font-weight="bold" fill="#111" textLength="36.6" lengthAdjust="spacing">300</text><text x="346.76" y="568.7" font-size="20" font-weight="bold" fill="#111" textLength="36.6" lengthAdjust="spacing">400</text><text x="453.69" y="568.7" font-size="20" font-weight="bold" fill="#111" textLength="36.6" lengthAdjust="spacing">500</text><text x="560.62" y="568.7" font-size="20" font-weight="bold" fill="#111" textLength="36.6" lengthAdjust="spacing">600</text><text x="667.55" y="568.7" font-size="20" font-weight="bold" fill="#111" textLength="36.6" lengthAdjust="spacing">700</text><text x="774.48" y="568.7" font-size="20" font-weight="bold" fill="#111" textLength="36.6" lengthAdjust="spacing">800</text><text x="881.41" y="568.7" font-size="20" font-weight="bold" fill="#111" textLength="36.6" lengthAdjust="spacing">900</text><text x="225.35" y="322.20" font-size="19.5" font-weight="bold" fill="#1b72b3" textLength="61.82" lengthAdjust="spacing">Quartz</text><text x="292.75" y="322.20" font-size="19.5" font-weight="bold" fill="#1b72b3" textLength="45.62" lengthAdjust="spacing">delta</text><text x="344.35" y="322.20" font-size="19.5" font-weight="bold" fill="#1b72b3">L</text><text x="360.90" y="322.20" font-size="19.5" font-weight="bold" fill="#1b72b3" textLength="37.58" lengthAdjust="spacing">abs.</text><text x="624.25" y="254.30" font-size="19.2" font-weight="bold" fill="#d3312b" textLength="27.59" lengthAdjust="spacing">cal</text><text x="656.95" y="254.30" font-size="19.2" font-weight="bold" fill="#d3312b" textLength="37.17" lengthAdjust="spacing">DTA</text><text x="697.85" y="254.30" font-size="19.2" font-weight="bold" fill="#d3312b" textLength="63.13" lengthAdjust="spacing">Quartz</text><text x="424.75" y="586.50" font-size="19.3" font-weight="bold" fill="#000" textLength="117.88" lengthAdjust="spacing">Temperature</text><text x="547.70" y="586.50" font-size="19.3" font-weight="bold" fill="#000" textLength="35.18" lengthAdjust="spacing">[°C]</text><text x="559.85" y="391.00" font-size="19.3" font-weight="bold" fill="#000" textLength="63.08" lengthAdjust="spacing">Onset:</text><text x="559.85" y="415.30" font-size="19.3" font-weight="bold" fill="#000" textLength="64.74" lengthAdjust="spacing">Offset:</text><text x="629.95" y="391.30" font-size="20" font-weight="normal" fill="#ababab" textLength="65.50" lengthAdjust="spacing">575.2°C</text><text x="629.50" y="415.40" font-size="20" font-weight="normal" fill="#ababab" textLength="71.05" lengthAdjust="spacing">600.4°C</text><text x="0" y="0" transform="translate(17.20 327.25) rotate(-90)" font-size="18.8" font-weight="bold" fill="#1b72b3" textLength="47.29" lengthAdjust="spacing">Delta</text><text x="0" y="0" transform="translate(17.20 273.98) rotate(-90)" font-size="18.8" font-weight="bold" fill="#1b72b3">L</text><text x="0" y="0" transform="translate(17.20 257.70) rotate(-90)" font-size="18.8" font-weight="bold" fill="#1b72b3" textLength="42.53" lengthAdjust="spacing">[µm]</text><text x="0" y="0" transform="translate(1015.85 312.45) rotate(-90)" font-size="19.5" font-weight="bold" fill="#d3312b" textLength="37.49" lengthAdjust="spacing">DTA</text><text x="0" y="0" transform="translate(1015.85 270.10) rotate(-90)" font-size="19.5" font-weight="bold" fill="#d3312b" textLength="38.68" lengthAdjust="spacing">[µV]</text></svg>
</body></html>
